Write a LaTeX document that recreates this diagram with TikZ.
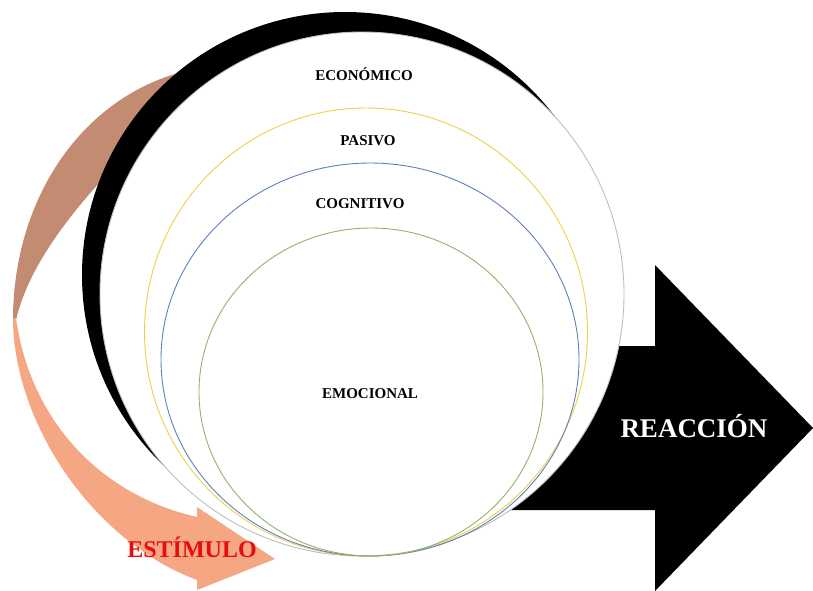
\documentclass[tikz,border=0pt]{standalone}
\usepackage{fontspec}
\setmainfont{Liberation Serif}
\definecolor{ringgray}{RGB}{190,190,190}
\definecolor{ringyellow}{RGB}{240,208,70}
\definecolor{ringblue}{RGB}{95,128,190}
\definecolor{ringgreen}{RGB}{145,178,112}
\definecolor{backbrown}{RGB}{196,139,115}
\definecolor{frontsalmon}{RGB}{245,166,131}
\definecolor{estred}{RGB}{232,12,12}
\begin{document}
\begin{tikzpicture}[x=1pt,y=-1pt,
  ringlabel/.style={font=\bfseries\fontsize{15}{15}\selectfont, anchor=base, inner sep=0pt},
  ring/.style={line width=0.9pt}]
\useasboundingbox (0,0) rectangle (813,590);
% curved arrow: back part
\fill[backbrown] (215,66) .. controls (95,78) and (13,188) .. (13,320)
  -- (16,320) .. controls (30,260) and (80,200) .. (140,140) -- cycle;
% curved arrow: front part with head
\fill[frontsalmon] (13,318) .. controls (13,420) and (90,540) .. (197,580)
  -- (197,590) -- (275,559) -- (197,507) -- (197,517)
  .. controls (100,495) and (30,420) .. (16,318) -- cycle;
% big black arrow
\fill[black] (420,346) -- (655,346) -- (655,265) -- (813,428) -- (655,591) -- (655,510) -- (420,510) -- cycle;
% black crescent circle
\fill[black] (345,275) circle[radius=263pt];
% white main circle
\filldraw[fill=white, draw=ringgray, line width=0.9pt] (362,294) circle[radius=262pt];
% inner rings
\draw[ring, ringyellow] (366,332) ellipse[x radius=221.5pt, y radius=224pt];
\draw[ring, ringblue] (370,359.5) ellipse[x radius=209pt, y radius=196.5pt];
\draw[ring, ringgreen] (371,392) ellipse[x radius=172pt, y radius=164pt];
% labels
\node[ringlabel] (eco) at (364,80) {ECONÓMICO};
\node[ringlabel] (pas) at (368,145) {PASIVO};
\node[ringlabel] (cog) at (360,208) {COGNITIVO};
\node[ringlabel] (emo) at (370,398) {EMOCIONAL};
\node[font=\bfseries\fontsize{27}{27}\selectfont, text=white, anchor=base, inner sep=0pt] (rea) at (694,437) {REACCIÓN};
\node[font=\bfseries\fontsize{24}{24}\selectfont, text=estred, anchor=base, inner sep=0pt] (est) at (192,557) {ESTÍMULO};
\end{tikzpicture}
\end{document}
